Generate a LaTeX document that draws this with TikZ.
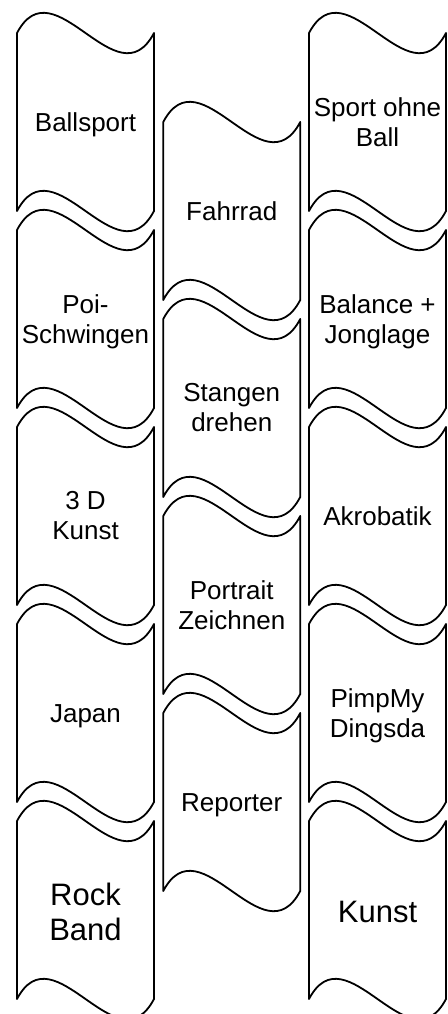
\documentclass[tikz,border=0pt]{standalone}
\usepackage{fontspec}
\setmainfont{Liberation Sans}
\usepackage{tikz}
\usetikzlibrary{positioning,calc}
\newcommand{\normtext}{\fontsize{13}{15}\selectfont}
\newcommand{\bigtext}{\fontsize{15.5}{17.5}\selectfont}
\tikzstyle{band} = [align=center, inner sep=0pt, font=\normtext]
\tikzstyle{descband} = [band, yshift=-1.4pt]
\tikzstyle{bigband} = [band, font=\bigtext, yshift=-1pt]
\tikzstyle{bandline} = [draw, line width=0.9pt, line join=round]
% wavy tape outline round a named node
\newcommand{\tapeoutline}[1]{%
  \draw[bandline] ($(#1)+(-68.5,-89)$) .. controls ($(#1)+(-31.5,-159)$) and ($(#1)+(31.5,-19)$) .. ($(#1)+(68.5,-89)$)
    -- ($(#1)+(68.5,89)$) .. controls ($(#1)+(31.5,159)$) and ($(#1)+(-31.5,19)$) .. ($(#1)+(-68.5,89)$) -- cycle;}

\begin{document}
\begin{tikzpicture}[x=0.5pt, y=-0.5pt]
            \useasboundingbox (0,0) rectangle (447,1014);
            %%%%% Left column %%%%%
            \coordinate (A1) at (85.5,122);
            \coordinate (A2) at (85.5,319);
            \coordinate (A3) at (85.5,516);
            \coordinate (A4) at (85.5,713);
            \coordinate (A5) at (85.5,910);
            \node (a1) [descband] at (A1) {Ballsport};
            \node (a2) [descband] at (A2) {Poi-\\Schwingen};
            \node (a3) [band] at (A3) {3 D\\Kunst};
            \node (a4) [descband] at (A4) {Japan};
            \node (a5) [bigband] at (A5) {Rock\\Band};
            %%%%% Middle column %%%%%
            \coordinate (B1) at (231.75,211);
            \coordinate (B2) at (231.75,408);
            \coordinate (B3) at (231.75,605);
            \coordinate (B4) at (231.75,802);
            \node (b1) [band] at (B1) {Fahrrad};
            \node (b2) [band] at (B2) {Stangen\\drehen};
            \node (b3) [band] at (B3) {Portrait\\Zeichnen};
            \node (b4) [descband] at (B4) {Reporter};
            %%%%% Right column %%%%%
            \coordinate (C1) at (377.5,122);
            \coordinate (C2) at (377.5,319);
            \coordinate (C3) at (377.5,516);
            \coordinate (C4) at (377.5,713);
            \coordinate (C5) at (377.5,910);
            \node (c1) [band] at (C1) {Sport ohne\\Ball};
            \node (c2) [descband] at (C2) {Balance +\\Jonglage};
            \node (c3) [band] at (C3) {Akrobatik};
            \node (c4) [descband] at (C4) {PimpMy\\Dingsda};
            \node (c5) [bigband] at (C5) {Kunst};
            %%%%% Outlines %%%%%
            \tapeoutline{A1} \tapeoutline{A2} \tapeoutline{A3} \tapeoutline{A4} \tapeoutline{A5}
            \tapeoutline{B1} \tapeoutline{B2} \tapeoutline{B3} \tapeoutline{B4}
            \tapeoutline{C1} \tapeoutline{C2} \tapeoutline{C3} \tapeoutline{C4} \tapeoutline{C5}
        \end{tikzpicture}
\end{document}
